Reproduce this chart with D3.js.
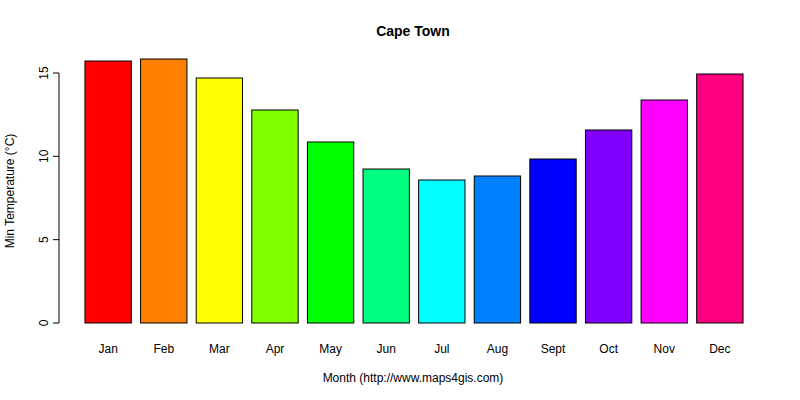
<!doctype html>
<html>
<head>
<style>
  body { margin: 0; background: #fff; }
  text { font-family: "Liberation Sans", Arial, sans-serif; }
</style>
</head>
<body>
<svg id="chart" width="800" height="400"></svg>
<script src="https://cdn.jsdelivr.net/npm/d3@7"></script>
<script>
var months = ["Jan","Feb","Mar","Apr","May","Jun","Jul","Aug","Sept","Oct","Nov","Dec"];
var minTemp = [15.72, 15.84, 14.7, 12.78, 10.86, 9.24, 8.58, 8.82, 9.84, 11.58, 13.38, 14.94];
var colors = ["#FF0000","#FF8000","#FFFF00","#80FF00","#00FF00","#00FF80","#00FFFF","#0080FF","#0000FF","#8000FF","#FF00FF","#FF0080"];
var yTicks = [0, 5, 10, 15];

var svg = d3.select('#chart');

var x = d3.scaleBand().domain(months).range([75.7, 752.3])
    .paddingInner(1/6).paddingOuter(1/6);
var y = d3.scaleLinear().domain([0, 15]).range([323, 73]);

svg.selectAll('rect.bar').data(months).enter().append('rect')
    .attr('class', 'bar')
    .attr('x', function(d){ return x(d); })
    .attr('width', x.bandwidth())
    .attr('y', function(d, i){ return y(minTemp[i]); })
    .attr('height', function(d, i){ return y(0) - y(minTemp[i]); })
    .attr('fill', function(d, i){ return colors[i]; })
    .attr('stroke', '#000').attr('stroke-width', 1);

// y axis, R style
var yAxis = svg.append('g').attr('transform', 'translate(59,0)')
    .call(d3.axisLeft(y).tickValues(yTicks).tickSize(6).tickPadding(4));
yAxis.select('.domain').attr('d', 'M0,' + y(0) + 'V' + y(15));
yAxis.selectAll('text')
    .attr('font-size', 12).attr('text-anchor', 'middle')
    .attr('transform', function(d){ return 'rotate(-90,' + (-15) + ',' + y(d) + ')'; })
    .attr('x', -15).attr('y', y).attr('dy', '0.35em');
yAxis.selectAll('.tick').attr('transform', null);
yAxis.selectAll('.tick line').attr('y1', y).attr('y2', y);

svg.selectAll('text.month').data(months).enter().append('text')
    .attr('class', 'month')
    .attr('x', function(d){ return x(d) + x.bandwidth() / 2; })
    .attr('y', 353).attr('text-anchor', 'middle').attr('font-size', 12)
    .text(function(d){ return d; });

svg.append('text').attr('x', 413).attr('y', 36).attr('text-anchor', 'middle')
    .attr('font-size', 14).attr('font-weight', 'bold').text('Cape Town');
svg.append('text').attr('x', 413).attr('y', 382).attr('text-anchor', 'middle')
    .attr('font-size', 12).text('Month (http://www.maps4gis.com)');
svg.append('text').attr('transform', 'translate(14,191) rotate(-90)')
    .attr('text-anchor', 'middle').attr('font-size', 12).text('Min Temperature (°C)');
</script>
</body>
</html>
